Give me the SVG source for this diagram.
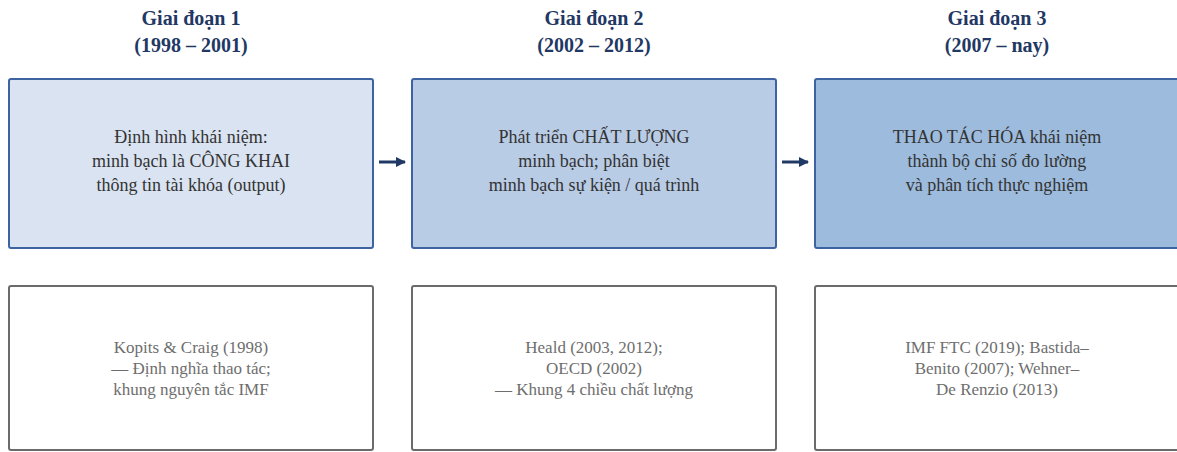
<svg xmlns="http://www.w3.org/2000/svg" width="1177" height="452" viewBox="0 0 1177 452">
  <style>
    .hdr { font-family: "Liberation Serif", "DejaVu Serif", serif; font-size: 20px; font-weight: bold; fill: #1f3864; text-anchor: middle; }
    .stage { stroke: #3d63a3; stroke-width: 2; }
    .src { fill: #ffffff; stroke: #6b6b6b; stroke-width: 2; }
    .t-main { font-family: "Liberation Serif", "DejaVu Serif", serif; font-size: 18px; fill: #333333; text-anchor: middle; }
    .t-src { font-family: "Liberation Serif", "DejaVu Serif", serif; font-size: 17px; fill: #6e6e6e; text-anchor: middle; }
    .conn { stroke: #1f3864; stroke-width: 3; fill: none; }
  </style>
  <defs>
    <marker id="arrow" viewBox="0 0 10 10" refX="9" refY="5" markerWidth="3.4" markerHeight="3.4" orient="auto" markerUnits="strokeWidth">
      <path d="M0,0 L10,5 L0,10 Z" fill="#1f3864"/>
    </marker>
  </defs>
  <rect width="1177" height="452" fill="#ffffff"/>

  <!-- stage 1 -->
  <g id="stage1">
    <text class="hdr" x="191" y="25">Giai đoạn 1</text>
    <text class="hdr" x="191" y="52">(1998 – 2001)</text>
    <rect class="stage" x="9" y="79" width="364" height="169" rx="2" fill="#dae3f1"/>
    <text class="t-main" x="191" y="143">Định hình khái niệm:</text>
    <text class="t-main" x="191" y="167">minh bạch là CÔNG KHAI</text>
    <text class="t-main" x="191" y="191">thông tin tài khóa (output)</text>
  </g>

  <!-- stage 2 -->
  <g id="stage2">
    <text class="hdr" x="594" y="25">Giai đoạn 2</text>
    <text class="hdr" x="594" y="52">(2002 – 2012)</text>
    <rect class="stage" x="412" y="79" width="364" height="169" rx="2" fill="#b9cce6"/>
    <text class="t-main" x="594" y="143">Phát triển CHẤT LƯỢNG</text>
    <text class="t-main" x="594" y="167">minh bạch; phân biệt</text>
    <text class="t-main" x="594" y="191">minh bạch sự kiện / quá trình</text>
  </g>

  <!-- stage 3 -->
  <g id="stage3">
    <text class="hdr" x="997" y="25">Giai đoạn 3</text>
    <text class="hdr" x="997" y="52">(2007 – nay)</text>
    <rect class="stage" x="815" y="79" width="380" height="169" rx="2" fill="#9dbbdc"/>
    <text class="t-main" x="997" y="143">THAO TÁC HÓA khái niệm</text>
    <text class="t-main" x="997" y="167">thành bộ chỉ số đo lường</text>
    <text class="t-main" x="997" y="191">và phân tích thực nghiệm</text>
  </g>

  <!-- source boxes -->
  <g id="source1">
    <rect class="src" x="9" y="286" width="364" height="164" rx="2"/>
    <text class="t-src" x="191" y="353">Kopits &amp; Craig (1998)</text>
    <text class="t-src" x="191" y="374">— Định nghĩa thao tác;</text>
    <text class="t-src" x="191" y="395">khung nguyên tắc IMF</text>
  </g>
  <g id="source2">
    <rect class="src" x="412" y="286" width="364" height="164" rx="2"/>
    <text class="t-src" x="594" y="353">Heald (2003, 2012);</text>
    <text class="t-src" x="594" y="374">OECD (2002)</text>
    <text class="t-src" x="594" y="395">— Khung 4 chiều chất lượng</text>
  </g>
  <g id="source3">
    <rect class="src" x="815" y="286" width="380" height="164" rx="2"/>
    <text class="t-src" x="997" y="353">IMF FTC (2019); Bastida–</text>
    <text class="t-src" x="997" y="374">Benito (2007); Wehner–</text>
    <text class="t-src" x="997" y="395">De Renzio (2013)</text>
  </g>

  <!-- connectors -->
  <g id="connectors">
    <line class="conn" x1="379" y1="162" x2="405" y2="162" marker-end="url(#arrow)"/>
    <line class="conn" x1="782" y1="162" x2="808" y2="162" marker-end="url(#arrow)"/>
  </g>
</svg>
